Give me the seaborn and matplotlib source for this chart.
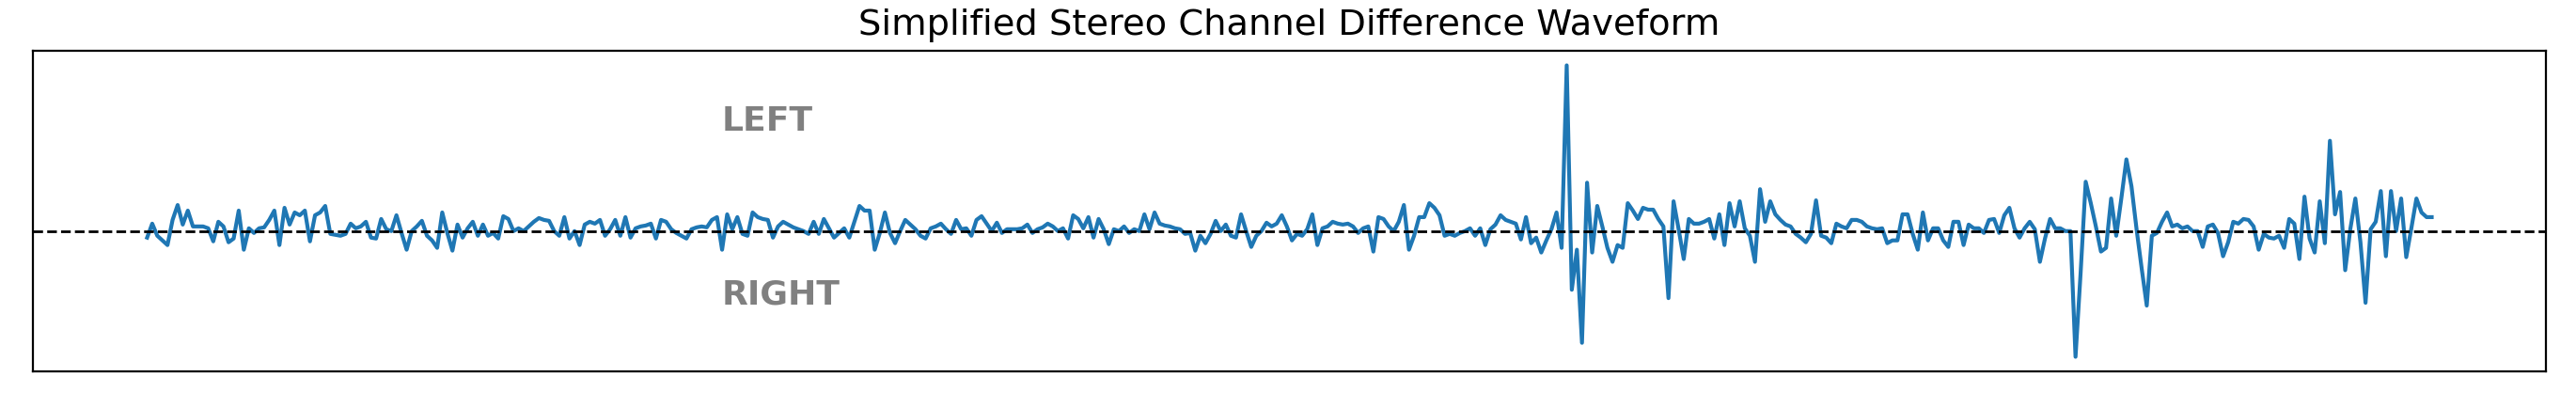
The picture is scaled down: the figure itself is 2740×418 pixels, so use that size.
import numpy as np
import matplotlib
matplotlib.use("Agg")
import matplotlib.pyplot as plt
import seaborn as sns

title_text = "Simplified Stereo Channel Difference Waveform"
region_labels = ["LEFT", "RIGHT"]
zero_level = 0.0

# channel difference (L - R), one value per sample
channel_difference = [
    -7, 8, -5, -10, -15, 12, 28, 7, 22, 5, 5, 5, 3, -11, 10, 5, -12, -8, 22, -20,
    3, -2, 3, 4, 12, 22, -15, 25, 7, 20, 17, 22, -11, 17, 20, 27, -3, -4, -5, -3,
    8, 3, 5, 10, -7, -8, 13, 2, 0, 17, -2, -20, 0, 5, 11, -5, -10, -18, 20, -2,
    -21, 7, -7, 3, 10, -5, 7, -5, -2, -8, 16, 13, 0, 3, 0,
    5, 10, 14, 12, 11, 0, -5, 15, -8, 0, -15, 7, 10, 8, 12, -5, 2, 12, -5, 15,
    -7, 3, 5, 6, 8, -8, 12, 10, 2, -2, -5, -8, 2, 4, 5, 4, 12, 15, -20, 18,
    2, 15, -3, -5, 20, 15, 13, 12, -7, 5, 10, 7, 4, 2, 0, -3, 10, -3, 13, 3,
    -7, -2, 3, -7, 10, 27, 22, 22, -20, -2, 20, -2, -13, 0,
    12, 7, 2, -5, -8, 3, 5, 8, 2, -3, 12, 2, 3, -5, 12, 16, 8, 0, 9, -2,
    2, 2, 2, 3, 7, -2, 2, 4, 8, 5, 0, 3, -8, 17, 13, 3, 15, -7, 13, 2,
    -14, 2, 0, 5, -2, 2, 0, 18, 2, 20, 8, 6, 5, 3, 2, -3, -2, -21, -5, -13,
    -3, 11, 0, 7, -5, -7, 18, 0, -17, -5, 0, 9, 5, 8,
    17, 5, -10, -3, -5, 2, 18, -15, 3, 5, 10, 8, 7, 8, 5, -2, 3, 5, -22, 15,
    13, 5, 0, 10, 28, -20, -5, 15, 15, 30, 25, 17, -5, -3, -5, -2, 0, 3, -5, 3,
    -15, 2, 7, 17, 12, 10, 8, -9, 15, -13, -7, -23, -10, 2, 20, -18,
    178, -63, -20, -120, 52, -23, 27, 5, -18, -33, -15, -18, 30, 22, 13, 25, 23, 23, 13, 5,
    -72, 32, 2, -30, 13, 8, 8, 10, 13, -8, 18, -15, 30, 5, 32, 3, -5, -33, 45, 10,
    32, 18, 12, 7, 5, -3, -7, -12, -3, 33, -5, -7, -13, 8, 5, 3, 12, 12, 10, 5,
    3, 2, 3, -13, -10, -10, 18, 18, -3, -20, 20, -10, 3, 3, -10, -17, 10, 10, -15, 7,
    3, 3, -2, 12, 13, -2, 17, 25, 3, -7, 3, 10, 2, -33, -8, 13, 3, 3, 0, 0,
    -135, -45, 53, 30, 5, -22, -18, 35, -5, 35, 77, 48, 2, -40, -80, -5, -2, 10, 20, 5,
    7, 3, 5, 0, 0, -17, 5, 7, -2, -27, -12, 10, 8, 13, 12, 5, -20, -3, -7, -8,
    -5, -18, 13, 8, -30, 37, -8, -23, 32, -13, 97, 18, 42, -42, 2, 35, -12, -77, 2, 10,
    43, -27, 43, 0, 35, -28, 3, 35, 20, 15, 15,
]

values = np.array(channel_difference, dtype=float) / 100.0
sample_index = np.arange(len(values))

W, H, DPI = 2740, 418, 200
fig = plt.figure(figsize=(W / DPI, H / DPI), dpi=DPI)
ax = fig.add_axes([35 / W, 23 / H, 2673 / W, 341 / H])

sns.lineplot(x=sample_index, y=values, ax=ax, color="#1f77b4", linewidth=1.5)
ax.axhline(zero_level, color="black", linestyle="--", linewidth=1)

ax.set_xticks([])
ax.set_yticks([])
ax.set_xlabel("")
ax.set_ylabel("")

ax.text(0.274, 0.78, region_labels[0], transform=ax.transAxes, fontsize=13,
        fontweight="bold", color="gray", ha="left", va="center")
ax.text(0.274, 0.24, region_labels[1], transform=ax.transAxes, fontsize=13,
        fontweight="bold", color="gray", ha="left", va="center")

ax.set_title(title_text, fontsize=13.8)

fig.savefig("out.png", dpi=DPI)
